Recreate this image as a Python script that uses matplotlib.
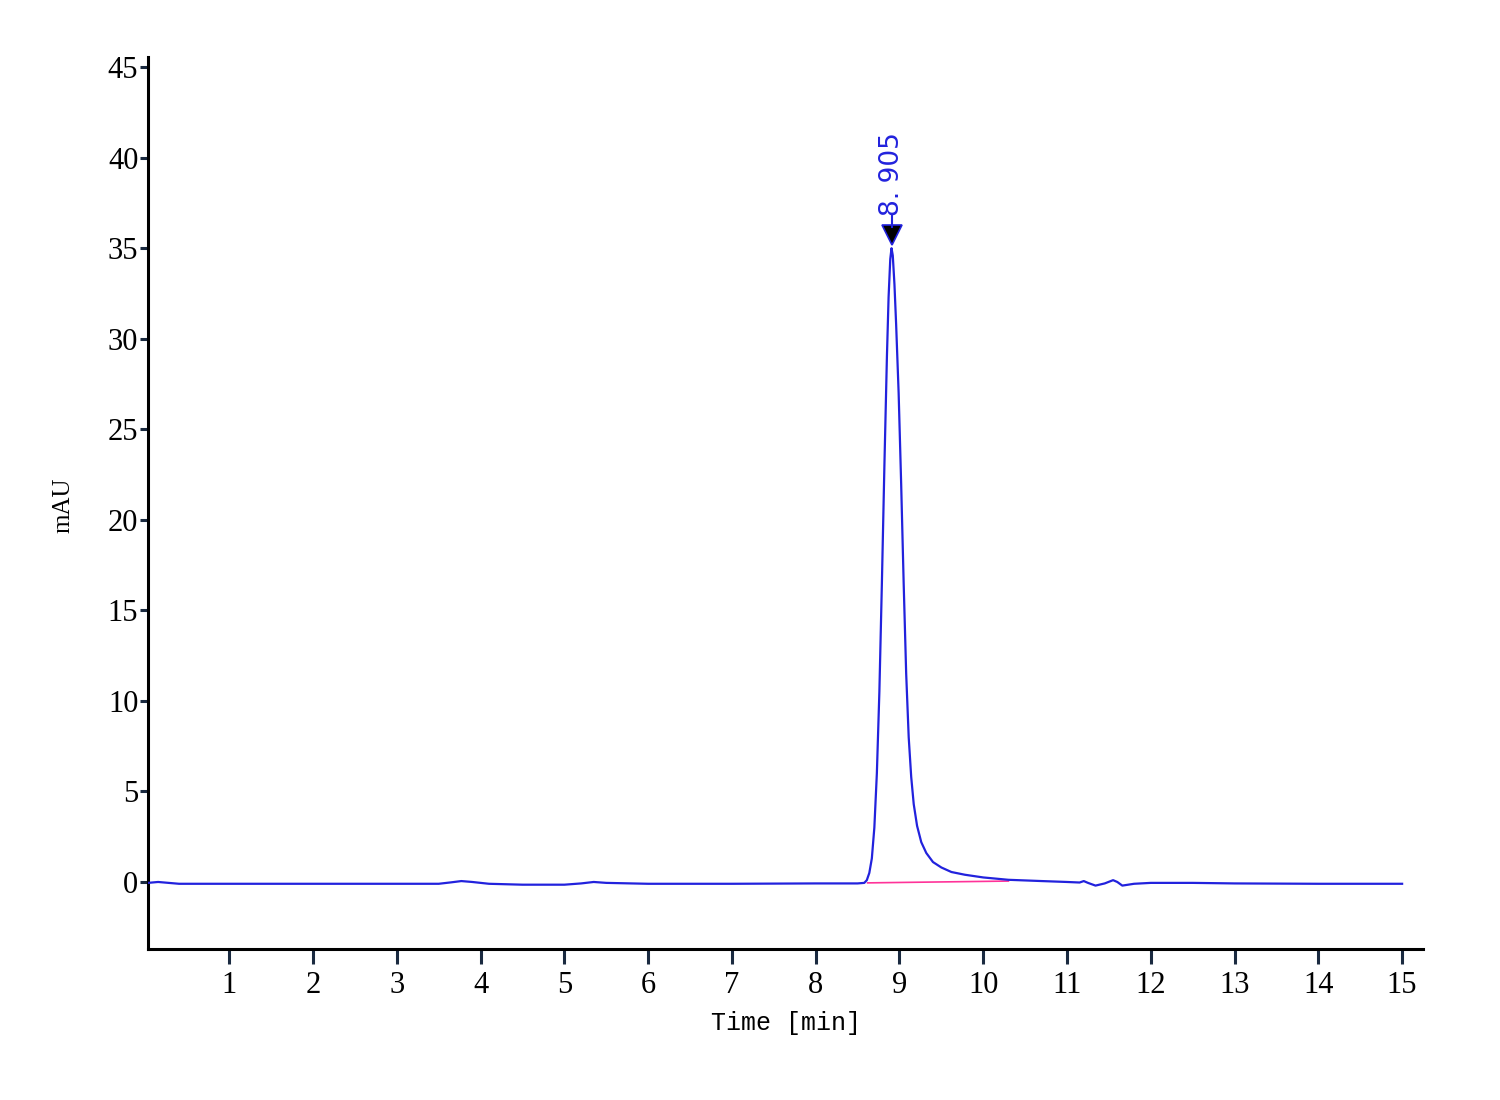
import matplotlib
matplotlib.use("Agg")
import matplotlib.pyplot as plt

# chromatogram trace (min, mAU)
time_min = [0.03, 0.15, 0.4, 1.0, 2.0, 3.0, 3.5, 3.65, 3.77, 3.9, 4.1, 4.5, 5.0, 5.2,
            5.35, 5.5, 5.8, 6.0, 7.0, 8.0, 8.5, 8.58, 8.61, 8.64, 8.67, 8.70, 8.73,
            8.76, 8.79, 8.82, 8.85, 8.87, 8.89, 8.905, 8.92, 8.94, 8.96, 8.99, 9.02,
            9.05, 9.08, 9.11, 9.14, 9.17, 9.21, 9.26, 9.32, 9.40, 9.50, 9.62, 9.78,
            10.0, 10.3, 10.7, 11.0, 11.15, 11.2, 11.25, 11.34, 11.45, 11.55, 11.6,
            11.66, 11.8, 12.0, 12.5, 13.0, 14.0, 15.0]
signal_mau = [-0.05, 0.0, -0.1, -0.1, -0.1, -0.1, -0.1, -0.02, 0.05, 0.0, -0.1, -0.15,
              -0.15, -0.08, 0.0, -0.05, -0.08, -0.1, -0.1, -0.08, -0.08, -0.05, 0.1,
              0.5, 1.3, 3.0, 6.0, 10.5, 16.5, 23.0, 29.0, 32.3, 34.4, 35.0, 34.6,
              33.0, 30.8, 27.0, 22.0, 16.5, 11.5, 8.0, 5.8, 4.3, 3.1, 2.2, 1.6, 1.1,
              0.8, 0.55, 0.4, 0.25, 0.12, 0.05, 0.0, -0.03, 0.05, -0.05, -0.2, -0.08,
              0.1, 0.0, -0.2, -0.1, -0.05, -0.05, -0.08, -0.1, -0.1]

# integration baseline of the peak
baseline_t = [8.62, 10.3]
baseline_y = [-0.05, 0.05]

peak_rt = 8.905
peak_label = "8. 905"

x_ticks = list(range(1, 16))
y_ticks = list(range(0, 50, 5))

fig = plt.figure(figsize=(15, 11), dpi=100)
ax = fig.add_axes([0.0987, 0.1373, 0.85, 0.8107])

ax.plot(baseline_t, baseline_y, color="#ff3399", lw=1.2, zorder=2)
ax.plot(time_min, signal_mau, color="#2222dd", lw=1.6, zorder=3)

# peak marker + label
ax.plot([peak_rt], [35.75], marker="v", markersize=14, markerfacecolor="black",
        markeredgecolor="#2222dd", markeredgewidth=1.2, zorder=4)
ax.plot([peak_rt, peak_rt], [36.2, 36.8], color="#2222dd", lw=1.5, zorder=4)
ax.text(peak_rt, 36.8, peak_label, rotation=90, ha="center", va="bottom",
        color="#2222dd", fontsize=19, family="DejaVu Sans")

ax.set_xlim(0.03, 15.25)
ax.set_ylim(-3.7, 45.55)
ax.set_xticks(x_ticks)
ax.set_yticks(y_ticks)

tick_font = {"family": "Liberation Serif", "size": 22}
ax.set_xticklabels([str(v) for v in x_ticks], fontdict=tick_font)
ax.set_yticklabels([str(v) for v in y_ticks], fontdict=tick_font)
ax.tick_params(axis="x", direction="out", length=11, width=2.2, color="#1a2a40", pad=5)
ax.tick_params(axis="y", direction="out", length=6, width=2.2, color="#1a2a40", pad=1)

for side in ["top", "right"]:
    ax.spines[side].set_visible(False)
for side in ["left", "bottom"]:
    ax.spines[side].set_linewidth(2.2)
    ax.spines[side].set_color("black")

ax.set_xlabel("Time [min]", family="Liberation Mono", fontsize=18, labelpad=8)
ax.set_ylabel("mAU", family="Liberation Serif", fontsize=18)
ax.yaxis.set_label_coords(-0.058, 0.498)

fig.savefig("out.png", dpi=100, facecolor="white")
